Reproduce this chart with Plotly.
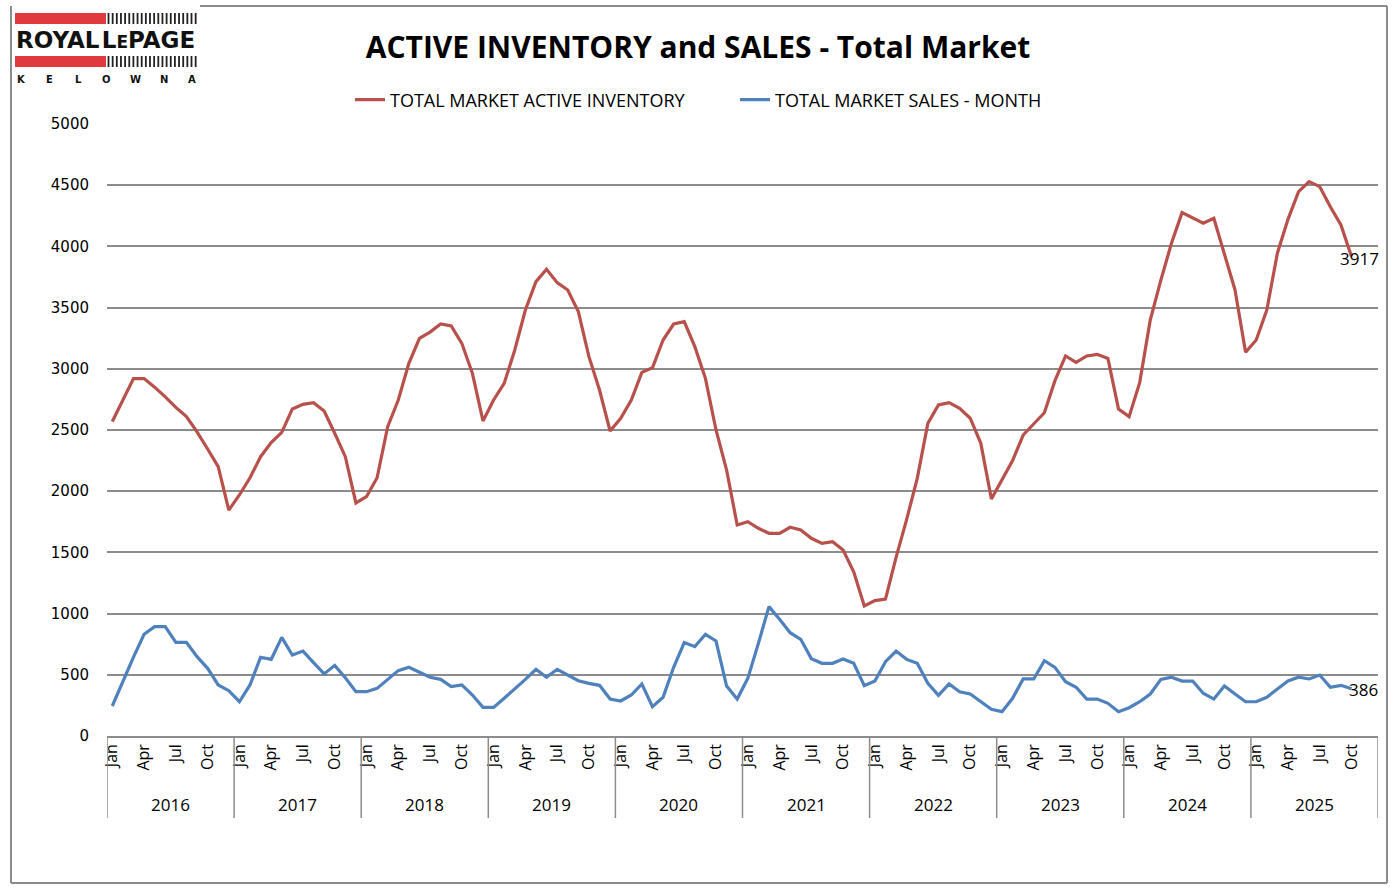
import plotly.graph_objects as go

# ---------------- data ----------------
years = [2016, 2017, 2018, 2019, 2020, 2021, 2022, 2023, 2024, 2025]
months = ["Jan", "Feb", "Mar", "Apr", "May", "Jun", "Jul", "Aug", "Sep", "Oct", "Nov", "Dec"]
shown_months = ["Jan", "Apr", "Jul", "Oct"]

inventory = [
    2570, 2745, 2920, 2920, 2850, 2770, 2685, 2610, 2485, 2345, 2200, 1846,   # 2016
    1969, 2110, 2282, 2397, 2481, 2672, 2710, 2723, 2655, 2473, 2282, 1904,   # 2017
    1955, 2110, 2527, 2745, 3045, 3249, 3300, 3366, 3350, 3208, 2963, 2574,   # 2018
    2745, 2881, 3154, 3480, 3712, 3813, 3704, 3644, 3467, 3099, 2827, 2492,   # 2019
    2596, 2745, 2971, 3009, 3235, 3366, 3385, 3181, 2922, 2500, 2173, 1724,   # 2020
    1751, 1697, 1656, 1656, 1705, 1683, 1615, 1574, 1588, 1520, 1342, 1062,   # 2021
    1106, 1119, 1460, 1770, 2105, 2554, 2704, 2723, 2677, 2596, 2391, 1936,   # 2022
    2091, 2250, 2459, 2546, 2641, 2903, 3105, 3053, 3105, 3118, 3085, 2672,   # 2023
    2609, 2887, 3399, 3725, 4025, 4276, 4230, 4189, 4230, 3944, 3644, 3135,   # 2024
    3235, 3480, 3944, 4221, 4447, 4529, 4488, 4324, 4175, 3917,               # 2025
]

sales = [
    245, 447, 645, 831, 893, 893, 765, 765, 648, 553, 417, 370,     # 2016
    280, 417, 643, 626, 806, 662, 694, 599, 507, 577, 476, 362,     # 2017
    362, 389, 458, 534, 561, 517, 480, 463, 403, 417, 335, 234,     # 2018
    234, 308, 384, 463, 545, 480, 545, 498, 452, 430, 414, 302,     # 2019
    286, 335, 425, 240, 316, 561, 763, 730, 831, 776, 408, 302,     # 2020
    471, 757, 1057, 953, 844, 790, 632, 594, 594, 629, 594, 411,    # 2021
    449, 607, 694, 626, 594, 430, 332, 425, 362, 343, 280, 218,     # 2022
    199, 308, 466, 466, 615, 561, 444, 398, 302, 302, 267, 199,     # 2023
    231, 280, 343, 463, 480, 449, 449, 349, 302, 408, 343, 280,     # 2024
    280, 316, 384, 449, 480, 466, 498, 398, 414, 386,               # 2025
]

y_ticks = [0, 500, 1000, 1500, 2000, 2500, 3000, 3500, 4000, 4500, 5000]

# ---------------- categories ----------------
categories = [f"{y}-{m}" for y in years for m in months]
x_inv = categories[:len(inventory)]
x_sales = categories[:len(sales)]
tick_vals = [f"{y}-{m}" for y in years for m in shown_months]
tick_text = [m for y in years for m in shown_months]

RED = "#B8504B"
BLUE = "#4F81BD"
GRID = "#8C8C8C"

W, H = 1394, 894
L, R, T, B = 107, 16, 124, 158
PW, PH = W - L - R, H - T - B


def px(xp):
    return (xp - L) / PW


def py(yp):
    return (H - B - yp) / PH


fig = go.Figure()
fig.add_trace(go.Scatter(x=x_inv, y=inventory, mode="lines", name="TOTAL MARKET ACTIVE INVENTORY",
                         line=dict(color=RED, width=3.2)))
fig.add_trace(go.Scatter(x=x_sales, y=sales, mode="lines", name="TOTAL MARKET SALES - MONTH",
                         line=dict(color=BLUE, width=3.2)))

shapes = []
annotations = []

# year dividers under the axis
for k in range(len(years) + 1):
    xv = -0.5 + 12 * k
    shapes.append(dict(type="line", xref="x", yref="paper", x0=xv, x1=xv, y0=py(818), y1=0,
                       line=dict(color=GRID, width=1.5)))

# year labels
for k, yr in enumerate(years):
    annotations.append(dict(x=5.5 + 12 * k, xref="x", y=py(804), yref="paper", text=str(yr),
                            showarrow=False, xanchor="center", yanchor="middle",
                            font=dict(family="Open Sans", size=17, color="#000")))

# data labels on last points
annotations.append(dict(x=x_inv[-1], y=inventory[-1], xref="x", yref="y", text=str(inventory[-1]),
                        showarrow=False, xanchor="left", yanchor="middle", xshift=-14, yshift=-2,
                        font=dict(family="Open Sans", size=17, color="#000")))
annotations.append(dict(x=x_sales[-1], y=sales[-1], xref="x", yref="y", text=str(sales[-1]),
                        showarrow=False, xanchor="left", yanchor="middle", xshift=-5, yshift=-1,
                        font=dict(family="Open Sans", size=17, color="#000")))

# outer chart border
for (x0, y0, x1, y1) in [(11, 6, 11, 883), (11, 883, 1387, 883), (1387, 6, 1387, 883), (200, 6, 1387, 6)]:
    shapes.append(dict(type="line", xref="paper", yref="paper", x0=px(x0), x1=px(x1), y0=py(y0), y1=py(y1),
                       line=dict(color="#8C8C8C", width=2)))

# logo
for (yt, yb) in [(13, 24), (56, 67)]:
    shapes.append(dict(type="rect", xref="paper", yref="paper", x0=px(15), x1=px(106), y0=py(yb), y1=py(yt),
                       fillcolor="#E03A3E", line=dict(width=0)))
    for s in range(22):
        xs = 108.5 + s * 4.15
        shapes.append(dict(type="line", xref="paper", yref="paper", x0=px(xs), x1=px(xs), y0=py(yb), y1=py(yt),
                           line=dict(color="#222", width=1.8)))

annotations.append(dict(x=px(14), y=py(40), xref="paper", yref="paper", xanchor="left", yanchor="middle",
                        showarrow=False,
                        text="ROYAL<span style='font-size:7px'> </span>L<span style='font-size:17px'>E</span>PAGE",
                        font=dict(family="DejaVu Sans", size=23, color="#111", weight="bold")))
for i, ch in enumerate("KELOWNA"):
    annotations.append(dict(x=px(21 + i * 28.5), y=py(79), xref="paper", yref="paper", xanchor="center",
                            yanchor="middle", showarrow=False, text=ch,
                            font=dict(family="DejaVu Sans", size=10, color="#111", weight="bold")))

fig.update_layout(
    width=W, height=H,
    margin=dict(l=L, r=R, t=T, b=B),
    paper_bgcolor="white", plot_bgcolor="white",
    title=dict(text="ACTIVE INVENTORY and SALES - Total Market", x=698 / W, xanchor="center",
               y=1 - 47 / H, yanchor="middle",
               font=dict(family="Open Sans", size=30, color="#000", weight="bold")),
    legend=dict(orientation="h", x=px(735), xanchor="center", y=py(100), yanchor="middle",
                font=dict(family="Open Sans", size=18, color="#000"), bgcolor="rgba(0,0,0,0)",
                entrywidth=340, entrywidthmode="pixels"),
    showlegend=True,
    shapes=shapes,
    annotations=annotations,
)

fig.update_xaxes(type="category", categoryorder="array", categoryarray=categories,
                 range=[-0.5, len(categories) - 0.5],
                 tickmode="array", tickvals=tick_vals, ticktext=tick_text, tickangle=-90,
                 tickfont=dict(family="Open Sans", size=16, color="#000"),
                 showline=True, linecolor=GRID, linewidth=1.5, showgrid=False, ticks="",
                 zeroline=False)
fig.update_yaxes(range=[0, 5000], tickmode="array", tickvals=y_ticks,
                 tickfont=dict(family="DejaVu Sans", size=15, color="#000"),
                 showgrid=True, gridcolor=GRID, gridwidth=1.5, zeroline=False, showline=False,
                 ticks="", ticklabelstandoff=17)

fig.write_html("out.html")
